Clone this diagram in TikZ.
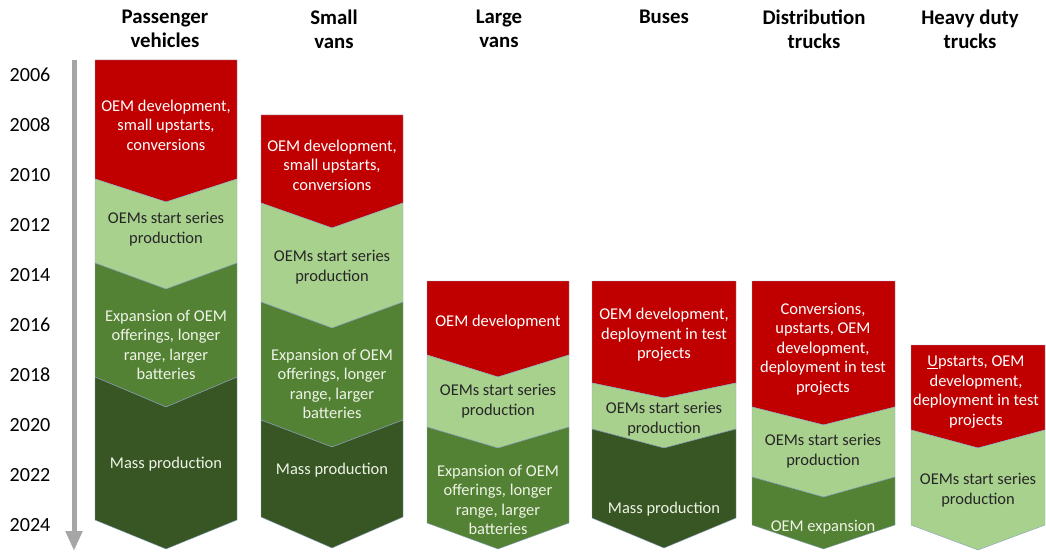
\documentclass[tikz,border=0pt]{standalone}
\usepackage{fontspec}
\setmainfont{Carlito}
\usetikzlibrary{arrows.meta}

\definecolor{devred}{HTML}{C00000}
\definecolor{startgreen}{HTML}{A9D18E}
\definecolor{expgreen}{HTML}{548235}
\definecolor{massgreen}{HTML}{375623}
\definecolor{edgeblue}{HTML}{8DA3C0}
\definecolor{axisgray}{HTML}{A6A6A6}
\definecolor{paletext}{HTML}{EEF3E6}

\begin{document}
\begin{tikzpicture}[
      x=0.25mm, y=-0.25mm,
      phase/.style={draw=edgeblue, line width=0.3pt},
      hdr/.style={font=\fontsize{14.8}{17}\selectfont\bfseries, align=center},
      yearlbl/.style={font=\fontsize{14.3}{17}\selectfont},
      txt/.style={font=\fontsize{11.7}{13.9}\selectfont, align=center, inner sep=0pt},
      onred/.style={txt, text=white},
      onlight/.style={txt, text=black!85},
      ondark/.style={txt, text=paletext},
      timeline/.style={-{Triangle[width=4mm, length=5mm]}, draw=axisgray,
                       line width=1.25mm}
    ]
    \useasboundingbox (0,0) rectangle (1046,552);

    % Column headers
    \node[hdr] (hpv)  at (165,29) {Passenger\\vehicles};
    \node[hdr] (hsv)  at (334,29) {Small\\vans};
    \node[hdr] (hlv)  at (499,29) {Large\\vans};
    \node[hdr] (hbus) at (664,17) {Buses};
    \node[hdr] (hdt)  at (814,29) {Distribution\\trucks};
    \node[hdr] (hhd)  at (970,29) {Heavy duty\\trucks};

    % Years and time axis
    \foreach \yr [count=\i] in {2006,2008,...,2024}
      \node[yearlbl] (y\yr) at (30,{75+50*(\i-1)}) {\yr};
    \coordinate (tstart) at (74,60);
    \coordinate (tend) at (74,551);
    \draw[timeline] (tstart) -- (tend);

    % Chevron phases: left, right, top side, top notch, bottom side, bottom point
    \foreach \xa/\xb/\yt/\pt/\yb/\pb/\c in {
        95/237/60/60/179/202/devred,
        95/237/179/202/263/289/startgreen,
        95/237/263/289/377/407/expgreen,
        95/237/377/407/520/549/massgreen,
        261/403/115/115/203/228/devred,
        261/403/203/228/302/328/startgreen,
        261/403/302/328/420/447/expgreen,
        261/403/420/447/517/548/massgreen,
        427/569/281/281/355/377/devred,
        427/569/355/377/427/448/startgreen,
        427/569/427/448/523/549/expgreen,
        592/736/281/281/383/398/devred,
        592/736/383/398/429/448/startgreen,
        592/736/429/448/518/548/massgreen,
        752/895/281/281/407/425/devred,
        752/895/407/425/477/497/startgreen,
        752/895/477/497/525/549/expgreen,
        911/1045/345/345/430/448/devred,
        911/1045/430/448/525/550/startgreen}
    {
      \pgfmathsetmacro\xc{(\xa+\xb)/2}
      \fill[\c] (\xa,\yt) -- (\xc,\pt) -- (\xb,\yt) -- (\xb,\yb)
        -- (\xc,\pb) -- (\xa,\yb) -- cycle;
      \draw[phase] (\xa,\yt) -- (\xc,\pt) -- (\xb,\yt) -- (\xb,\yb)
        -- (\xc,\pb) -- (\xa,\yb) -- cycle;
    }

    % Passenger vehicles
    \node[onred]   (pvdev)   at (166,125) {OEM development,\\small upstarts,\\conversions};
    \node[onlight] (pvstart) at (166,229) {OEMs start series\\production};
    \node[ondark]  (pvexp)   at (166,345) {Expansion of OEM\\offerings, longer\\range, larger\\batteries};
    \node[ondark]  (pvmass)  at (166,464) {Mass production};

    % Small vans
    \node[onred]   (svdev)   at (332,165) {OEM development,\\small upstarts,\\conversions};
    \node[onlight] (svstart) at (332,267) {OEMs start series\\production};
    \node[ondark]  (svexp)   at (332,384) {Expansion of OEM\\offerings, longer\\range, larger\\batteries};
    \node[ondark]  (svmass)  at (332,470) {Mass production};

    % Large vans
    \node[onred]   (lvdev)   at (498,322) {OEM development};
    \node[onlight] (lvstart) at (498,401) {OEMs start series\\production};
    \node[ondark]  (lvexp)   at (498,500) {Expansion of OEM\\offerings, longer\\range, larger\\batteries};

    % Buses
    \node[onred]   (busdev)   at (664,335) {OEM development,\\deployment in test\\projects};
    \node[onlight] (busstart) at (664,419) {OEMs start series\\production};
    \node[ondark]  (busmass)  at (664,509) {Mass production};

    % Distribution trucks
    \node[onred]   (dtdev)   at (823,349) {Conversions,\\upstarts, OEM\\development,\\deployment in test\\projects};
    \node[onlight] (dtstart) at (823,451) {OEMs start series\\production};
    \node[ondark]  (dtexp)   at (823,527) {OEM expansion};

    % Heavy duty trucks
    \node[onred]   (hddev)   at (976,392) {\underline{U}pstarts, OEM\\development,\\deployment in test\\projects};
    \node[onlight] (hdstart) at (978,490) {OEMs start series\\production};

  \end{tikzpicture}
\end{document}
